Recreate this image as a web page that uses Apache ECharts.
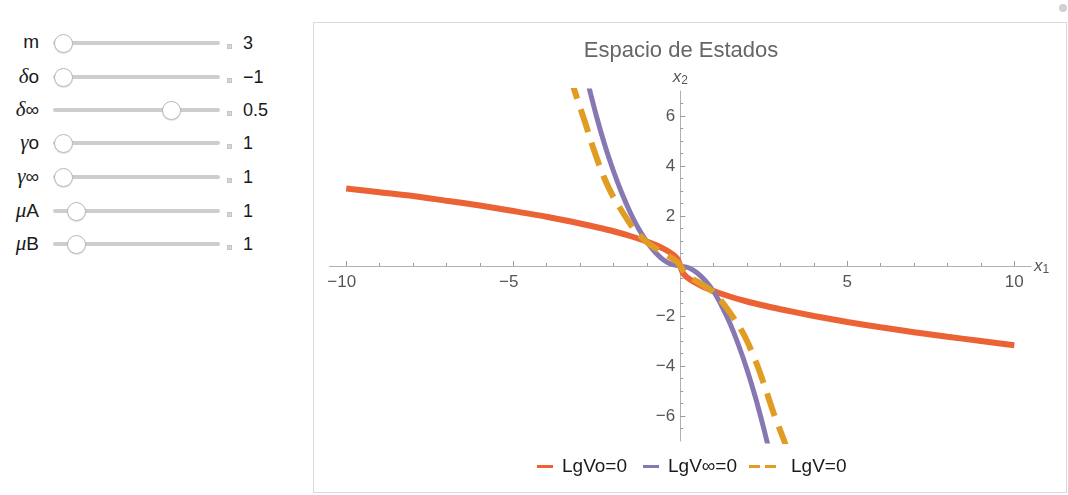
<!DOCTYPE html>
<html>
<head>
<meta charset="utf-8">
<script src="https://cdn.jsdelivr.net/npm/echarts@6/dist/echarts.min.js"></script>
<style>
  html, body { margin: 0; padding: 0; background: #fff; width: 1068px; height: 495px; overflow: hidden;
    font-family: 'Liberation Sans', Arial, sans-serif; }
  .lbl { position: absolute; left: 0; width: 39px; text-align: right; font-size: 19px; line-height: 22px; color: #1a1a1a; }
  .lbl i { font-family: 'Liberation Serif', serif; font-size: 21px; }
  .track { position: absolute; left: 53px; width: 167px; height: 4px; background: #cdcdcd; border-radius: 2px; }
  .thumb { position: absolute; width: 17px; height: 17px; border-radius: 50%; background: #fff;
    border: 1px solid #b9b9b9; box-shadow: 0 1px 1px rgba(0,0,0,0.12); }
  .plus { position: absolute; left: 227px; width: 5px; height: 5px; background: #d6d6d6; border: 1px solid #c4c4c4; box-sizing: border-box; }
  .val { position: absolute; left: 243px; font-size: 18px; line-height: 22px; color: #1a1a1a; }
  #panel { position: absolute; left: 313px; top: 22px; width: 754px; height: 471px; border: 1px solid #dadada; box-sizing: border-box; }
  #main { position: absolute; left: 314px; top: 23px; width: 752px; height: 469px; }
  #corner { position: absolute; left: 1059px; top: 4px; width: 8px; height: 8px; border-radius: 50%; background: #d0d0d0; }
</style>
</head>
<body>
<div id="controls"></div>
<div id="panel"></div>
<div id="main"></div>
<div id="corner"></div>
<script>
// controles (Manipulate)
var sliderLabels = ['m', '<i>δ</i>o', '<i>δ</i>∞', '<i>γ</i>o', '<i>γ</i>∞', '<i>μ</i>A', '<i>μ</i>B'];
var sliderValues = ['3', '\u22121', '0.5', '1', '1', '1', '1'];
var sliderThumb = [0.06, 0.06, 0.71, 0.06, 0.06, 0.14, 0.14];
var rowY = [43, 77, 110, 143, 177, 211, 244];

// curvas
var redX = [-10, -9, -8, -7, -6, -5, -4, -3, -2.5, -2, -1.5, -1, -0.7, -0.4, -0.2, -0.08, 0,
            0.08, 0.2, 0.4, 0.7, 1, 1.5, 2, 2.5, 3, 4, 5, 6, 7, 8, 9, 10];
var redY = [3.1, 2.95, 2.8, 2.61, 2.42, 2.2, 1.97, 1.7, 1.55, 1.39, 1.2, 0.98, 0.82, 0.62, 0.44, 0.28, 0,
            -0.28, -0.45, -0.63, -0.84, -1.0, -1.23, -1.42, -1.58, -1.73, -2.0, -2.24, -2.45, -2.65, -2.83, -3.0, -3.17];

var purpleX = [-2.8, -2.5, -2.25, -2, -1.75, -1.5, -1.25, -1, -0.75, -0.5, -0.25, 0,
               0.25, 0.5, 0.75, 1, 1.25, 1.5, 1.75, 2, 2.25, 2.5, 2.75];
var purpleY = [7.5, 5.95, 4.8, 3.8, 2.92, 2.15, 1.5, 0.97, 0.55, 0.24, 0.06, 0,
               -0.07, -0.27, -0.59, -1.03, -1.62, -2.33, -3.18, -4.15, -5.25, -6.5, -7.85];

var orangeX = [-3.3, -3.1, -2.85, -2.6, -2.3, -2.0, -1.7, -1.4, -1.0, -0.6, -0.3, -0.1, 0,
               0.1, 0.3, 0.6, 1.0, 1.4, 1.8, 2.0, 2.3, 2.55, 2.8, 3.1, 3.3];
var orangeY = [7.6, 6.75, 5.75, 4.7, 3.6, 2.75, 2.1, 1.5, 0.95, 0.6, 0.35, 0.17, 0,
               -0.2, -0.45, -0.7, -1.05, -1.7, -2.5, -3.0, -3.95, -4.9, -5.9, -6.95, -7.7];

var xMajor = [-10, -5, 5, 10];
var xMinor = [-9, -8, -7, -6, -4, -3, -2, -1, 1, 2, 3, 4, 6, 7, 8, 9];
var yMajor = [-6, -4, -2, 2, 4, 6];
var yMinor = [-6.5, -5.5, -5, -4.5, -3.5, -3, -2.5, -1.5, -1, -0.5, 0.5, 1, 1.5, 2.5, 3, 3.5, 4.5, 5, 5.5, 6.5];

var names = ['LgVo=0', 'LgV\u221e=0', 'LgV=0'];

// dibujar los controles
var ctl = document.getElementById('controls');
var html = '';
for (var i = 0; i < sliderLabels.length; i++) {
  var y = rowY[i];
  var tx = 53 + sliderThumb[i] * 167;
  html += '<div class="lbl" style="top:' + (y - 12) + 'px">' + sliderLabels[i] + '</div>';
  html += '<div class="track" style="top:' + (y - 2) + 'px"></div>';
  html += '<div class="thumb" style="left:' + (tx - 9.5) + 'px;top:' + (y - 9.5) + 'px"></div>';
  html += '<div class="plus" style="top:' + (y + 1) + 'px"></div>';
  html += '<div class="val" style="top:' + (y - 11) + 'px">' + sliderValues[i] + '</div>';
}
ctl.innerHTML = html;

function pairs(xs, ys) {
  return xs.map(function (x, k) { return [x, ys[k]]; });
}
function fmt(v) { return String(v).replace('-', '\u2212'); }
// en x el signo menos queda colgando a la izquierda
function fmtX(v) { return v < 0 ? '{n|' + fmt(v) + '}' : '{p|' + v + '}'; }

var font = "'Liberation Sans', Arial, sans-serif";
var gray = '#555555';
var axisName = {
  rich: {
    i: { fontFamily: font, fontStyle: 'italic', fontSize: 17, color: gray, lineHeight: 20 },
    s: { fontFamily: font, fontSize: 12, color: gray, lineHeight: 20, padding: [8, 0, 0, 0] }
  }
};
var tickFont = { fontFamily: font, fontSize: 17, color: gray };

// rejilla: ejes cruzando en el centro (rango simetrico)
var gridW = 701.5, gridH = 350;
var gLeft = 15.5, gTop = 68;

var myChart = echarts.init(document.getElementById('main'));
myChart.setOption({
  animation: false,
  color: ['#EB6235', '#8778B3', '#E19C24'],
  title: {
    text: 'Espacio de Estados',
    left: 367, top: 17, padding: 0, textAlign: 'center',
    textStyle: { fontFamily: font, fontSize: 22, fontWeight: 'normal', color: '#666' }
  },
  grid: { left: gLeft, top: gTop, width: gridW, height: gridH, containLabel: false, outerBoundsMode: 'none' },
  xAxis: [{
    type: 'value', min: -10.5, max: 10.5, position: 'bottom', offset: -gridH / 2,
    axisLine: { onZero: false, lineStyle: { color: '#b0b0b0' } },
    axisTick: { inside: true, length: 5, customValues: xMajor, lineStyle: { color: '#9a9a9a' } },
    axisLabel: {
      customValues: xMajor, formatter: fmtX, margin: 8,
      rich: { n: Object.assign({ padding: [0, 9, 0, 0] }, tickFont), p: tickFont }
    },
    splitLine: { show: false },
    name: '{i|x}{s|1}', nameLocation: 'end', nameGap: 3, nameTextStyle: axisName
  }, {
    type: 'value', min: -10.5, max: 10.5, position: 'bottom', offset: -gridH / 2,
    axisLine: { show: false, onZero: false },
    axisTick: { inside: true, length: 3, customValues: xMinor, lineStyle: { color: '#9a9a9a' } },
    axisLabel: { show: false }, splitLine: { show: false }
  }],
  yAxis: [{
    type: 'value', min: -7, max: 7, position: 'left', offset: -gridW / 2,
    axisLine: { onZero: false, lineStyle: { color: '#b0b0b0' } },
    axisTick: { inside: true, length: 5, customValues: yMajor, lineStyle: { color: '#9a9a9a' } },
    axisLabel: Object.assign({ customValues: yMajor, formatter: fmt, margin: 5 }, tickFont),
    splitLine: { show: false },
    name: '{i|x}{s|2}', nameLocation: 'end', nameGap: 4, nameTextStyle: axisName
  }, {
    type: 'value', min: -7, max: 7, position: 'left', offset: -gridW / 2,
    axisLine: { show: false, onZero: false },
    axisTick: { inside: true, length: 3, customValues: yMinor, lineStyle: { color: '#9a9a9a' } },
    axisLabel: { show: false }, splitLine: { show: false }
  }],
  legend: [{
    data: [names[0]], left: 223, top: 434, itemWidth: 16, itemHeight: 3, padding: 0, itemGap: 0,
    icon: 'rect', textStyle: { fontFamily: font, fontSize: 19, color: '#1a1a1a', padding: [0, 0, 0, 4] }
  }, {
    data: [names[1]], left: 329, top: 434, itemWidth: 16, itemHeight: 3, padding: 0, itemGap: 0,
    icon: 'rect', textStyle: { fontFamily: font, fontSize: 19, color: '#1a1a1a', padding: [0, 0, 0, 4] }
  }, {
    data: [names[2]], left: 435, top: 434, itemWidth: 27, itemHeight: 3, padding: 0, itemGap: 0,
    icon: 'path://M0,0H11V3H0Z M16,0H27V3H16Z',
    textStyle: { fontFamily: font, fontSize: 19, color: '#1a1a1a', padding: [0, 0, 0, 10] }
  }],
  series: [{
    name: names[0], type: 'line', data: pairs(redX, redY),
    symbol: 'none', smooth: 0.25,
    lineStyle: { width: 6 }, z: 2
  }, {
    name: names[1], type: 'line', data: pairs(purpleX, purpleY),
    symbol: 'none', smooth: 0.25,
    lineStyle: { width: 5 }, z: 3
  }, {
    name: names[2], type: 'line', data: pairs(orangeX, orangeY),
    symbol: 'none', smooth: 0.25,
    lineStyle: { width: 6, type: [24, 11] }, z: 4
  }]
});
</script>
</body>
</html>
